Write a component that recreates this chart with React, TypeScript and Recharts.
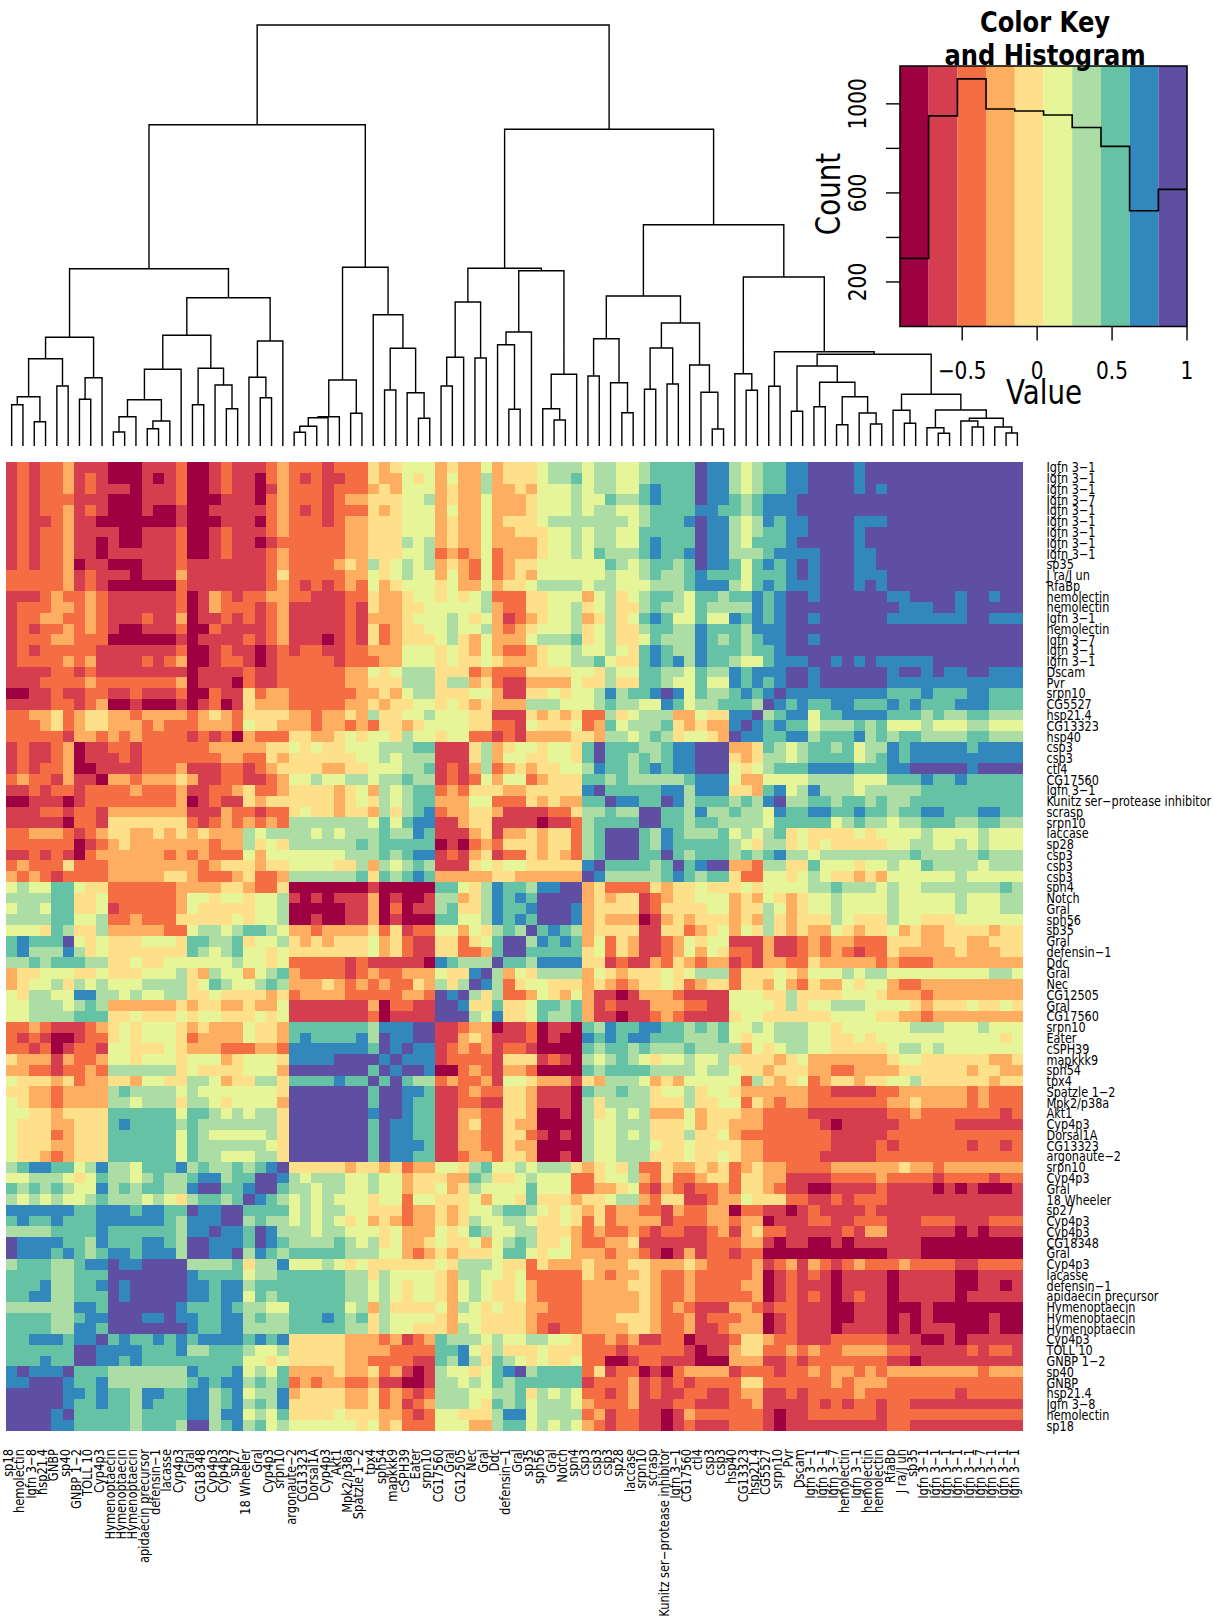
import {
  LineChart,
  Line,
  ScatterChart,
  Scatter,
  XAxis,
  YAxis,
  ReferenceArea,
} from "recharts";

const FONT = "DejaVu Sans";

const palette = ["#9E0142", "#D53E4F", "#F46D43", "#FDAE61", "#FEE08B", "#E6F598", "#ABDDA4", "#66C2A5", "#3288BD", "#5E4FA2"];

// column order, left to right. the rows are the same list bottom to top
const colLabels = [
  "sp18", "hemolectin", "Igfn 3−8", "hsp21.4", "GNBP", "sp40", "GNBP 1−2", "TOLL 10", "Cyp4p3", "Hymenoptaecin",
  "Hymenoptaecin", "Hymenoptaecin", "apidaecin precursor", "defensin−1", "lacasse", "Cyp4p3", "Gral", "CG18348", "Cyp4p3", "Cyp4p3",
  "sp27", "18 Wheeler", "Gral", "Cyp4p3", "srpn10", "argonaute−2", "CG13323", "Dorsal1A", "Cyp4p3", "Akt1",
  "Mpk2/p38a", "Spatzle 1−2", "tpx4", "sph54", "mapkkk9", "cSPH39", "Eater", "srpn10", "CG17560", "Gral",
  "CG12505", "Nec", "Gral", "Ddc", "defensin−1", "Gral", "sp35", "sph56", "Gral", "Notch",
  "spn4", "csp3", "csp3", "csp3", "sp28", "laccase", "srpn10", "scrasp", "Kunitz ser−protease inhibitor", "Igfn 3−1",
  "CG17560", "ctl4", "csp3", "csp3", "hsp40", "CG13323", "hsp21.4", "CG5527", "srpn10", "Pvr",
  "Dscam", "Igfn 3−1", "Igfn 3−1", "Igfn 3−7", "hemolectin", "Igfn 3−1", "hemolectin", "hemolectin", "RfaBp", "J ra/J un",
  "sp35", "Igfn 3−1", "Igfn 3−1", "Igfn 3−1", "Igfn 3−1", "Igfn 3−1", "Igfn 3−7", "Igfn 3−1", "Igfn 3−1", "Igfn 3−1",
];
const rowLabels = [...colLabels].reverse();

// colour bin of each cell, 0 = lowest. The matrix mirrors over its anti-diagonal so only
// the part above it is listed: row r holds columns 0 to 89-r
const binRows = [
  "1212231110 0011120012 1112322212 2243455534 3353444566 65665567 7779886567 7889999899 9999999999 99",
  "1212231210 0010120012 1102321211 2243354535 3363444566 75665567 7779886567 7889999899 9999999999 9",
  "1212231211 1011120012 1101322212 2234355534 3363343555 65665578 7779886567 7889999898 9999999999",
  "1212221110 0011120001 1102322212 3344455634 3353334555 65576678 7779887678 8899999999 999999999",
  "1212231210 0010010011 1112321212 2243455535 3353334555 65665567 7778877678 8899999999 99999999",
  "1211231100 0000010001 1102322212 3344455534 3353444566 66666567 7789886568 7889999888 9999999",
  "1212231111 0011120012 1112322222 3344455534 3353344455 65665577 7779886567 7889999899 999999",
  "1212231101 0011120012 1101222222 3344465634 3353333455 65665578 7779886577 7899999899 99999",
  "1212231101 1111120012 1112322222 3344455623 2352333455 65766678 7789886667 8888999889 9999",
  "1212230110 0011121111 1112322223 4364565634 3252344555 55576567 7679887578 7898999889 999",
  "2222231211 1011131111 1112422222 3354565535 3252343555 55565567 6678777577 7898999888 99",
  "2222231210 0000021111 1112321212 3253455545 3353445666 65665556 6678886578 7888999898 9",
  "1112322321 1111120132 1223322111 2243345545 4562224455 53564567 7657767787 8998999999",
  "1222332321 1111120132 2212311111 2143344555 5563224455 64564467 6657666687 899999999",
  "1223322321 1121130112 1212311111 2133345556 5453123455 63464578 7557558787 89989999",
  "1212232321 0011120021 1112311111 2142344556 5563234555 64564467 7668777688 8999999",
  "1222332220 0000010111 1212311101 2142344456 4353335666 74564457 6668767678 899899",
  "1212222211 1111120012 1101212211 2233355545 4353223455 65565478 7668777677 89999",
  "1222232311 1121230012 2101222221 2223355545 4454333455 66754478 7868776557 8889",
  "1111221211 1111110111 1211222222 3354566644 4232224444 55465577 6657668788 899",
  "1112222322 2222230111 0211222222 3344466646 6342113333 54464477 6557558787 89",
  "0011211221 1211120021 1423322222 2334356644 4553114454 55686778 9857667878 9",
  "1111221230 0100010120 1433322222 3343445545 4343336665 55676655 8756677769",
  "2233423443 3233332343 2444433233 4364455655 5441114343 42264566 633544889",
  "2223423443 3323222333 2544333233 2324434555 5442215444 52375666 74343389",
  "2222213323 2322221212 0322244334 5455465545 5221213333 44366567 6455439",
  "1211230112 2122222233 3334454544 5556667711 1463455455 47977766 788999",
  "1211230111 2122222223 3224344444 4556566611 1463554455 4797767678 899",
  "1212230011 1122231112 2123444433 4455566712 1362343445 5687767878 89",
  "2322131103 3233343112 2112355655 6656676612 1253552344 4776766666 7",
  "1121221222 2322231122 3422344443 4536567723 2444334444 4897777788",
  "0011101222 2222230121 1434444443 4546567733 3552224343 377988779",
  "1112212213 3333331113 2212245443 4436467823 3443111122 46676699",
  "1111102214 4444442123 2323266666 6657578811 3441111011 2677779",
  "2233321234 4334343433 3656666565 6667668711 1341334344 267999",
  "2222220123 4333333323 3645466666 6767777701 0232444344 26799",
  "1121210233 3333232322 2535555555 6667678812 1341224343 2679",
  "2322242223 3333333234 4434455554 4636567611 1454554444 489",
  "3232122223 3333443222 3422366666 6747678733 3334433333 39",
  "5655775442 2222233334 4322400000 0010000077 5468776889 9",
  "6666774452 2222235545 5455610101 1130100166 3468787999",
  "5665774451 2222235444 4455600000 1130201167 446877899",
  "6666775562 2322244444 5455600100 1130100077 55687879",
  "5554764463 3333225665 6776533233 3342412255 3546769",
  "7877795454 4455547766 7455643434 4453421144 245799",
  "7866686454 4444447656 7554544444 4453421144 22379",
  "6676777664 4544555555 6554522222 1211111087 6669",
  "3445554454 4455564365 5356732222 1232233354 489",
  "3455646565 5566664576 5567633343 2323224364 69",
  "5466558866 5655664454 4443423333 2222233298 9",
  "5566656763 3333343443 3433511111 1130221199",
  "5566667774 4544454554 4454511111 112011119",
  "2232111234 5455543433 3544377777 77688899",
  "2121001224 5455542333 3544378777 7869889",
  "2212012215 5444543332 2233288888 887989",
  "4333132235 5455545553 4555488889 99989",
  "3322122326 6666645444 4555399999 9979",
  "5444342334 4355446653 4466477778 779",
  "4433233336 7666656555 5555499999 99",
  "5433233336 6566646654 5555399999 9",
  "5544344447 7777757765 6566499999",
  "5444334447 8777767666 666649999",
  "5444234447 7777757655 55564999",
  "5444334447 7777757666 6665499",
  "5443234447 7777757665 556649",
  "6788775686 6577786766 76789",
  "5566654576 6567667886 7799",
  "7676765586 7677668997 789",
  "6565655676 6656546776 79",
  "8888887788 8788779889 9",
  "7877877788 8888768889",
  "6666777787 777776889",
  "9888877687 77887699",
  "9888787678 8788869",
  "6777667889 889999",
  "7777667779 99999",
  "7778667789 8999",
  "7788667779 899",
  "6666668879 99",
  "7777667889 9",
  "7777668879",
  "778887889",
  "77777799",
  "7778779",
  "898889",
  "88999",
  "9999",
  "999",
  "99",
  "9",
].map((s) => s.replace(/ /g, ""));

// hierarchical clustering, hclust style: a child below 100 is a leaf, 100 + i is merge i
const mergeLeft = [
  0, 2, 100, 4, 102, 6, 105, 104, 9, 108, 12, 110, 109, 112, 16, 19, 18, 114, 113, 22, 21, 120, 118, 107,
  25, 124, 125, 126, 30, 127, 33, 36, 35, 130, 32, 129, 123, 38, 137, 41, 138, 44, 43, 142, 48, 47, 145, 143, 140,
  51, 54, 53, 149, 56, 58, 153, 62, 61, 60, 155, 152, 65, 64, 67, 69, 71, 73, 76, 75, 166, 165, 164,
  79, 78, 82, 81, 85, 84, 88, 87, 177, 175, 173, 171, 163, 162, 160, 148, 136,
];
const mergeRight = [
  1, 3, 101, 5, 103, 7, 8, 106, 10, 11, 13, 14, 111, 15, 17, 20, 115, 116, 117, 23, 119, 24, 121, 122,
  26, 27, 28, 29, 31, 128, 34, 37, 131, 132, 133, 134, 135, 39, 40, 42, 139, 45, 141, 46, 49, 144, 50, 146, 147,
  52, 55, 150, 151, 57, 59, 154, 63, 156, 157, 158, 159, 66, 161, 68, 70, 72, 74, 77, 167, 168, 169, 170,
  80, 172, 83, 174, 86, 176, 89, 178, 179, 180, 181, 182, 183, 184, 185, 186, 187,
];
const mergeHeight = [
  41.3, 24.3, 49.3, 60, 87.3, 46.7, 68.3, 108.7, 14, 29.3, 17.3, 25, 46.3, 76.7, 41.3, 37.3, 61, 77.7, 110.7, 48.3, 68.7, 105, 148.3, 177.3,
  13.7, 19.7, 28.3, 29.3, 32.7, 66, 56, 27.7, 53.3, 97.7, 131.3, 178.7, 321.3, 60, 88.7, 88, 144, 36.7, 101.3, 114, 26, 37.3, 71.7, 175.3, 177.7,
  70, 33.3, 63.3, 107.3, 56.7, 62, 98, 17, 53.7, 81, 123, 150, 55.7, 72.3, 59.7, 34.7, 39.3, 21.3, 22, 33, 49.3, 63.7, 80,
  22.7, 35.7, 12.7, 18.3, 19, 25, 13, 19, 27.7, 36, 51.7, 91.7, 94.3, 169, 221.3, 316.7, 421,
];

const histBreaks = [-0.915, -0.724, -0.532, -0.341, -0.149, 0.043, 0.234, 0.426, 0.617, 0.809, 1];
const histCounts = [306, 946, 1112, 977, 968, 950, 894, 809, 520, 616];
const keyXTicks = [-0.5, 0, 0.5, 1];
const keyYTicks = [200, 400, 600, 800, 1000];
const keyYLabelled = [200, 600, 1000];

const leaves = colLabels.map((_, i) => i);

const cells = binRows.flatMap((_, row) =>
  leaves.map((col) => ({
    row,
    col,
    bin: Number(col <= 89 - row ? binRows[row][col] : binRows[89 - col][89 - row]),
  })),
);

// walk the merges and lay each U down as 4 points with a gap after it
const dendroPoints = () => {
  const pos: { x: number; h: number }[] = [];
  const pts: { x: number; h: number | null }[] = [];
  const child = (c: number) => (c >= 100 ? pos[c - 100] : { x: c, h: 0 });
  mergeLeft.forEach((l, i) => {
    const a = child(l);
    const b = child(mergeRight[i]);
    const h = mergeHeight[i];
    pts.push({ x: a.x, h: a.h }, { x: a.x, h }, { x: b.x, h }, { x: b.x, h: b.h }, { x: b.x, h: null });
    pos.push({ x: (a.x + b.x) / 2, h });
  });
  return pts;
};

const histLine = [
  ...histCounts.map((count, i) => ({ x: histBreaks[i], count })),
  { x: 1, count: histCounts[histCounts.length - 1] },
];

const CELL_W = 1017 / 90;
const CELL_H = 969 / 90;

const Squeezed = ({ x, y, rotate = 0, sx = 0.84, size, anchor = "middle", bold = false, children }: any) => (
  <text
    transform={`translate(${x} ${y}) rotate(${rotate}) scale(${sx} 1)`}
    fontFamily={FONT}
    fontSize={size}
    fontWeight={bold ? "bold" : "normal"}
    textAnchor={anchor}
    fill="#000"
  >
    {children}
  </text>
);

const ColTick = ({ x, y, payload }: any) => (
  <Squeezed x={x + 1.5} y={y + 18} rotate={-90} sx={0.85} size={13.5} anchor="end">
    {colLabels[payload.value]}
  </Squeezed>
);

const RowTick = ({ x, y, payload }: any) => (
  <Squeezed x={x + 23.5} y={y + 5} sx={0.835} size={13.5} anchor="start">
    {rowLabels[payload.value]}
  </Squeezed>
);

const KeyXTick = ({ x, y, payload }: any) => (
  <Squeezed x={x} y={y + 36} size={24}>
    {payload.value < 0 ? `−${Math.abs(payload.value)}` : payload.value}
  </Squeezed>
);

const KeyYTick = ({ x, y, payload }: any) =>
  keyYLabelled.includes(payload.value) ? (
    <Squeezed x={x - 18} y={y} rotate={-90} size={24}>
      {payload.value}
    </Squeezed>
  ) : null;

const box = (left: number, top: number) => ({ position: "absolute" as const, left, top });

export default function App() {
  return (
    <div style={{ position: "absolute", left: 0, top: 0, width: 1213, height: 1620, background: "#fff", overflow: "hidden" }}>
      <div style={box(0, 0)}>
        <LineChart width={1023} height={446} data={dendroPoints()} margin={{ top: 0, right: 0, bottom: 0, left: 6 }}>
          <XAxis dataKey="x" type="number" domain={[-0.5, 89.5]} hide />
          <YAxis type="number" domain={[0, 446]} hide />
          <Line dataKey="h" stroke="#000" strokeWidth={1.4} dot={false} isAnimationActive={false} type="linear" />
        </LineChart>
      </div>

      <div style={box(0, 0)}>
        <ScatterChart width={1213} height={1620} margin={{ top: 462, right: 0, bottom: 0, left: 6 }}>
          <XAxis
            dataKey="col"
            type="number"
            domain={[-0.5, 89.5]}
            ticks={leaves}
            interval={0}
            height={189}
            tick={<ColTick />}
            tickLine={false}
            axisLine={false}
            tickSize={0}
            tickMargin={0}
          />
          <YAxis
            dataKey="row"
            type="number"
            orientation="right"
            reversed
            domain={[-0.5, 89.5]}
            ticks={leaves}
            interval={0}
            width={190}
            tick={<RowTick />}
            tickLine={false}
            axisLine={false}
            tickSize={0}
            tickMargin={0}
          />
          <Scatter
            data={cells}
            isAnimationActive={false}
            shape={(p: any) => (
              <rect
                x={p.cx - CELL_W / 2}
                y={p.cy - CELL_H / 2}
                width={CELL_W}
                height={CELL_H}
                fill={palette[p.payload.bin]}
                shapeRendering="crispEdges"
              />
            )}
          />
        </ScatterChart>
      </div>

      <div style={box(800, 0)}>
        <LineChart width={413} height={420} data={histLine} margin={{ top: 66, right: 26, bottom: 0, left: 0 }}>
          <XAxis
            dataKey="x"
            type="number"
            domain={[-0.915, 1]}
            ticks={keyXTicks}
            interval={0}
            height={93.5}
            tick={<KeyXTick />}
            tickSize={14}
            tickLine={{ stroke: "#000", strokeWidth: 1.4 }}
            axisLine={false}
          />
          <YAxis
            type="number"
            domain={[0, 1170]}
            ticks={keyYTicks}
            interval={0}
            width={100}
            tick={<KeyYTick />}
            tickSize={14}
            tickLine={{ stroke: "#000", strokeWidth: 1.4 }}
            axisLine={false}
          />
          {palette.map((c, i) => (
            <ReferenceArea key={c} x1={histBreaks[i]} x2={histBreaks[i + 1]} y1={0} y2={1170} fill={c} fillOpacity={1} stroke="none" />
          ))}
          <Line dataKey="count" type="stepAfter" stroke="#000" strokeWidth={1.6} dot={false} isAnimationActive={false} />
          <ReferenceArea x1={-0.915} x2={1} y1={0} y2={1170} fill="none" stroke="#000" strokeWidth={1.6} />
        </LineChart>
      </div>

      <svg width={1213} height={420} style={{ ...box(0, 0), pointerEvents: "none" }}>
        <Squeezed x={1045} y={32} size={27.5} sx={0.88} bold>
          Color Key
        </Squeezed>
        <Squeezed x={1045} y={65} size={27.5} sx={0.88} bold>
          and Histogram
        </Squeezed>
        <Squeezed x={1044} y={404} size={33}>
          Value
        </Squeezed>
        <Squeezed x={840} y={194} size={33} rotate={-90}>
          Count
        </Squeezed>
      </svg>
    </div>
  );
}
